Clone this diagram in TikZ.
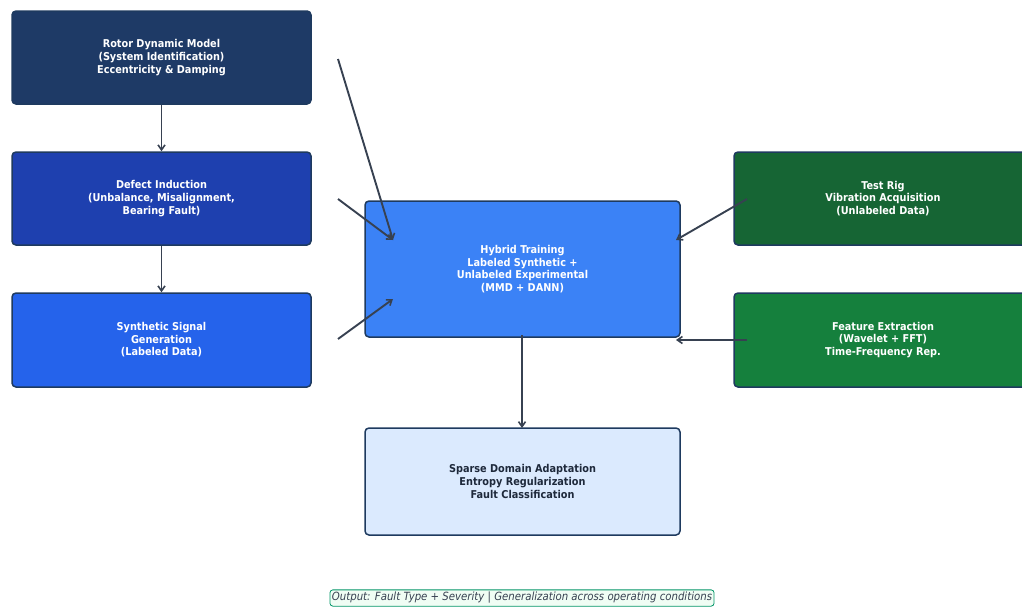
\documentclass[tikz,border=0pt]{standalone}
\usepackage{fontspec}
\setmainfont{DejaVu Sans Condensed}
\usetikzlibrary{arrows.meta}
\definecolor{cRotor}{HTML}{1E3A66}
\definecolor{cDefect}{HTML}{1E40AF}
\definecolor{cSynth}{HTML}{2563EB}
\definecolor{cHybrid}{HTML}{3B82F6}
\definecolor{cRig}{HTML}{166534}
\definecolor{cFeat}{HTML}{15803D}
\definecolor{cSparse}{HTML}{DBEAFE}
\definecolor{cBorder}{HTML}{1E3A5F}
\definecolor{cArrow}{HTML}{374151}
\definecolor{cDark}{HTML}{1E293B}
\definecolor{cOutFill}{HTML}{F0FDF4}
\definecolor{cOutDraw}{HTML}{059669}
\tikzset{
  box/.style={draw=cBorder, line width=1.5pt, rounded corners=4pt, inner sep=0pt,
    align=center, font=\bfseries\fontsize{10.8}{12.6}\selectfont, text=white},
  conn/.style={draw=cArrow, line width=1.9pt, -{Straight Barb[length=5pt,width=7pt,line width=1.6pt]}},
}
\begin{document}
\begin{tikzpicture}[x=1pt,y=-1pt]
\useasboundingbox (0,0) rectangle (1022,608);
\clip (0,0) rectangle (1022,608);
\node[box, fill=cRotor, minimum width=299pt, minimum height=93pt] (rotor) at (161.5,57.5)
  {Rotor Dynamic Model\\(System Identification)\\Eccentricity \& Damping};
\node[box, fill=cDefect, minimum width=299pt, minimum height=93pt] (defect) at (161.5,198.5)
  {Defect Induction\\(Unbalance, Misalignment,\\Bearing Fault)};
\node[box, fill=cSynth, minimum width=299pt, minimum height=94pt] (synth) at (161.5,340)
  {Synthetic Signal\\Generation\\(Labeled Data)};
\node[box, fill=cHybrid, minimum width=315pt, minimum height=136pt] (hybrid) at (522.5,269)
  {Hybrid Training\\Labeled Synthetic +\\Unlabeled Experimental\\(MMD + DANN)};
\node[box, fill=cRig, minimum width=298pt, minimum height=93pt] (rig) at (883,198.5)
  {Test Rig\\Vibration Acquisition\\(Unlabeled Data)};
\node[box, fill=cFeat, minimum width=298pt, minimum height=94pt] (feat) at (883,340)
  {Feature Extraction\\(Wavelet + FFT)\\Time-Frequency Rep.};
\node[box, fill=cSparse, text=cDark, minimum width=315pt, minimum height=107pt] (sparse) at (522.5,481.5)
  {Sparse Domain Adaptation\\Entropy Regularization\\Fault Classification};
\node[draw=cOutDraw, fill=cOutFill, rounded corners=3pt, line width=0.8pt, text=cArrow,
  font=\itshape\fontsize{11.3}{13}\selectfont, inner xsep=2pt, inner ysep=2.5pt] (out) at (522,598)
  {Output: Fault Type + Severity | Generalization across operating conditions};
\coordinate (a1s) at (338,59);
\coordinate (a1e) at (393,240);
\coordinate (a2s) at (338,199);
\coordinate (a2e) at (393,240);
\coordinate (a3s) at (338,339);
\coordinate (a3e) at (393,299);
\coordinate (a4s) at (747,199);
\coordinate (a4e) at (676,240);
\coordinate (a5s) at (747,340);
\coordinate (a5e) at (676,340);
\coordinate (a6s) at (522,335);
\coordinate (a6e) at (522,428);
\draw[conn] (rotor.south) -- (defect.north);
\draw[conn] (defect.south) -- (synth.north);
\draw[conn] (a1s) -- (a1e);
\draw[conn] (a2s) -- (a2e);
\draw[conn] (a3s) -- (a3e);
\draw[conn] (a4s) -- (a4e);
\draw[conn] (a5s) -- (a5e);
\draw[conn] (a6s) -- (a6e);
\end{tikzpicture}
\end{document}
